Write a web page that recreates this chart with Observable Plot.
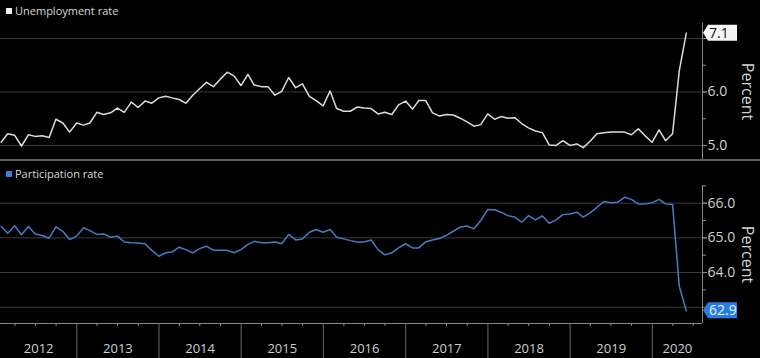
<!DOCTYPE html>
<html><head><meta charset="utf-8">
<script src="https://cdn.jsdelivr.net/npm/d3@7"></script>
<script src="https://cdn.jsdelivr.net/npm/@observablehq/plot@0.6"></script>
<style>
html,body{margin:0;padding:0;background:#000;}
#wrap{position:relative;width:760px;height:358px;background:#000;overflow:hidden;font-family:"Open Sans",sans-serif;}
.leg{position:absolute;left:6px;font-size:11px;color:#d8d8d8;display:flex;align-items:center;gap:3px;line-height:12px;}
.sw{width:6px;height:6px;display:inline-block;}
#p1{position:absolute;top:0;left:0;}
#p2{position:absolute;top:161px;left:0;}
#sep{position:absolute;top:159px;left:0;width:760px;height:2px;background:#5a5a5a;}
</style></head>
<body>
<div id="wrap">
  <div id="p1"></div>
  <div id="sep"></div>
  <div id="p2"></div>
  <div class="leg" style="top:5px"><span class="sw" style="background:#f0f0f0"></span>Unemployment rate</div>
  <div class="leg" style="top:168px"><span class="sw" style="background:#3b7fd6"></span>Participation rate</div>
</div>
<script>
// Monthly data, Jan 2012 .. May 2020
const firstYear = 2012;
const years = [2012, 2013, 2014, 2015, 2016, 2017, 2018, 2019, 2020];
const unemployment = [
5.06,5.22,5.19,4.99,5.20,5.17,5.18,5.15,5.49,5.42,5.25,5.42,
5.38,5.42,5.62,5.58,5.61,5.70,5.62,5.81,5.71,5.83,5.79,5.89,
5.92,5.89,5.86,5.79,5.94,6.06,6.18,6.10,6.24,6.37,6.30,6.12,
6.33,6.13,6.10,6.10,5.94,6.01,6.27,6.08,6.15,5.92,5.84,5.74,
6.02,5.69,5.64,5.64,5.72,5.70,5.69,5.59,5.62,5.58,5.76,5.83,
5.68,5.84,5.84,5.61,5.55,5.58,5.57,5.51,5.44,5.36,5.39,5.59,
5.49,5.54,5.51,5.52,5.41,5.33,5.27,5.24,5.01,5.00,5.09,5.00,
5.03,4.96,5.08,5.22,5.24,5.25,5.25,5.25,5.20,5.31,5.18,5.06,
5.29,5.09,5.22,6.40,7.10];
const participation = [
65.33,65.13,65.35,65.09,65.33,65.11,65.07,64.99,65.32,65.19,64.95,65.05,
65.29,65.21,65.10,65.11,65.02,65.05,64.88,64.86,64.85,64.83,64.64,64.47,
64.57,64.59,64.73,64.66,64.57,64.69,64.76,64.64,64.64,64.64,64.57,64.66,
64.81,64.90,64.86,64.86,64.88,64.83,65.10,64.94,64.97,65.16,65.24,65.16,
65.24,65.02,64.97,64.92,64.88,64.88,64.94,64.66,64.51,64.57,64.71,64.83,
64.71,64.71,64.89,64.94,64.98,65.07,65.19,65.31,65.34,65.26,65.50,65.82,
65.81,65.74,65.64,65.60,65.45,65.64,65.52,65.63,65.42,65.52,65.67,65.69,
65.74,65.60,65.72,65.88,66.05,66.01,66.03,66.17,66.11,65.98,65.98,66.01,
66.11,65.98,65.96,63.60,62.90];
const uGrid = [5, 6, 7];
const uLabels = [5, 6];          // the 7.0 label sits under the last-value tag
const uMinor = [5.5, 6.5];
const pGrid = [63, 64, 65, 66];
const pLabels = [64, 65, 66];    // the 63.0 label sits under the last-value tag
const pMinor = [63.5, 64.5, 65.5, 66.5];

// month-end dates for each observation
const rows = unemployment.map((u, i) => ({
  date: new Date(firstYear, i + 1, 0),
  unemp: u,
  part: participation[i]
}));

const x0 = new Date(2012, 0, 28), x1 = new Date(2020, 7, 11);
const yearStarts = years.slice(1).map(y => new Date(y, 0, 1));
const quarterStarts = years.flatMap(y => [3, 6, 9].map(m => new Date(y, m, 1))).filter(d => d >= x0 && d <= x1);
const yearMids = years.map(y => {
  const s = Math.max(+new Date(y, 0, 1), +x0), e = Math.min(+new Date(y + 1, 0, 1), +x1);
  return {label: String(y), mid: new Date((s + e) / 2)};
});

const axisColor = "#8a8a8a", gridColor = "#3a3a3a", labelColor = "#cfcfcf";
const font = "Open Sans";

function percentLabel() {
  return Plot.text(["Percent"], {text: d => d, frameAnchor: "right", dx: 45, rotate: 90,
    textAnchor: "middle", lineAnchor: "middle", fontSize: 16, fill: "#d4d4d4"});
}

const p1 = Plot.plot({
  width: 760, height: 160, marginTop: 23, marginBottom: 1, marginLeft: 0, marginRight: 58,
  style: {background: "transparent", color: labelColor, fontFamily: font, overflow: "visible"},
  x: {domain: [x0, x1], axis: null},
  y: {domain: [4.738, 7.28], axis: null},
  marks: [
    Plot.gridY({ticks: uGrid, stroke: gridColor, strokeOpacity: 1}),
    Plot.ruleX([x1], {stroke: axisColor}),
    Plot.axisY({ticks: uGrid, anchor: "right", tickSize: 4, tickFormat: () => "", stroke: axisColor, label: null}),
    Plot.axisY({ticks: uLabels, anchor: "right", tickSize: 4, tickPadding: 1, tickFormat: d => d.toFixed(1),
      stroke: axisColor, fill: labelColor, fontSize: 14, label: null}),
    Plot.axisY({ticks: uMinor, anchor: "right", tickSize: 3, tickFormat: () => "", stroke: axisColor, label: null}),
    Plot.lineY(rows, {x: "date", y: "unemp", stroke: "#dcdcdc", strokeWidth: 1.5, clip: true}),
    percentLabel()
  ]
});

const p2 = Plot.plot({
  width: 760, height: 197, marginTop: 24, marginBottom: 35, marginLeft: 0, marginRight: 58,
  style: {background: "transparent", color: labelColor, fontFamily: font, overflow: "visible"},
  x: {domain: [x0, x1], axis: null},
  y: {domain: [62.53, 66.51], axis: null},
  marks: [
    Plot.gridY({ticks: pGrid, stroke: gridColor, strokeOpacity: 1}),
    Plot.ruleX([x1], {stroke: axisColor}),
    Plot.ruleY([62.53], {stroke: axisColor}),
    Plot.axisY({ticks: pGrid, anchor: "right", tickSize: 4, tickFormat: () => "", stroke: axisColor, label: null}),
    Plot.axisY({ticks: pLabels, anchor: "right", tickSize: 4, tickPadding: 1, tickFormat: d => d.toFixed(1),
      stroke: axisColor, fill: labelColor, fontSize: 14, label: null}),
    Plot.axisY({ticks: pMinor, anchor: "right", tickSize: 3, tickFormat: () => "", stroke: axisColor, label: null}),
    Plot.axisX({ticks: yearStarts, anchor: "bottom", tickSize: 35, tickFormat: () => "", stroke: "#6a6a6a", label: null}),
    Plot.axisX({ticks: quarterStarts, anchor: "bottom", tickSize: 3, tickFormat: () => "", stroke: axisColor, label: null}),
    Plot.text(yearMids, {x: "mid", text: "label", frameAnchor: "bottom", dy: 25, lineAnchor: "middle",
      fontSize: 13, fill: labelColor}),
    Plot.lineY(rows, {x: "date", y: "part", stroke: "#4a7bc0", strokeWidth: 1.5, clip: true}),
    percentLabel()
  ]
});

function addBox(plot, v, bg, fg) {
  const yy = plot.scale("y").apply(v);
  const xx = plot.scale("x").apply(x1);
  const g = d3.select(plot).append("g");
  g.append("path")
    .attr("d", `M${xx + 1},${yy} L${xx + 6},${yy - 8} H${xx + 35} V${yy + 8} H${xx + 6} Z`)
    .attr("fill", bg);
  g.append("text").attr("x", xx + 7).attr("y", yy).attr("dy", "0.36em")
    .attr("text-anchor", "start")
    .attr("fill", fg).attr("font-size", 14).attr("font-family", font)
    .text(v.toFixed(1));
}
addBox(p1, unemployment[unemployment.length - 1], "#f4f4f4", "#111");
addBox(p2, participation[participation.length - 1], "#2a7de0", "#e8f2ff");

document.getElementById("p1").appendChild(p1);
document.getElementById("p2").appendChild(p2);
</script>
</body></html>
